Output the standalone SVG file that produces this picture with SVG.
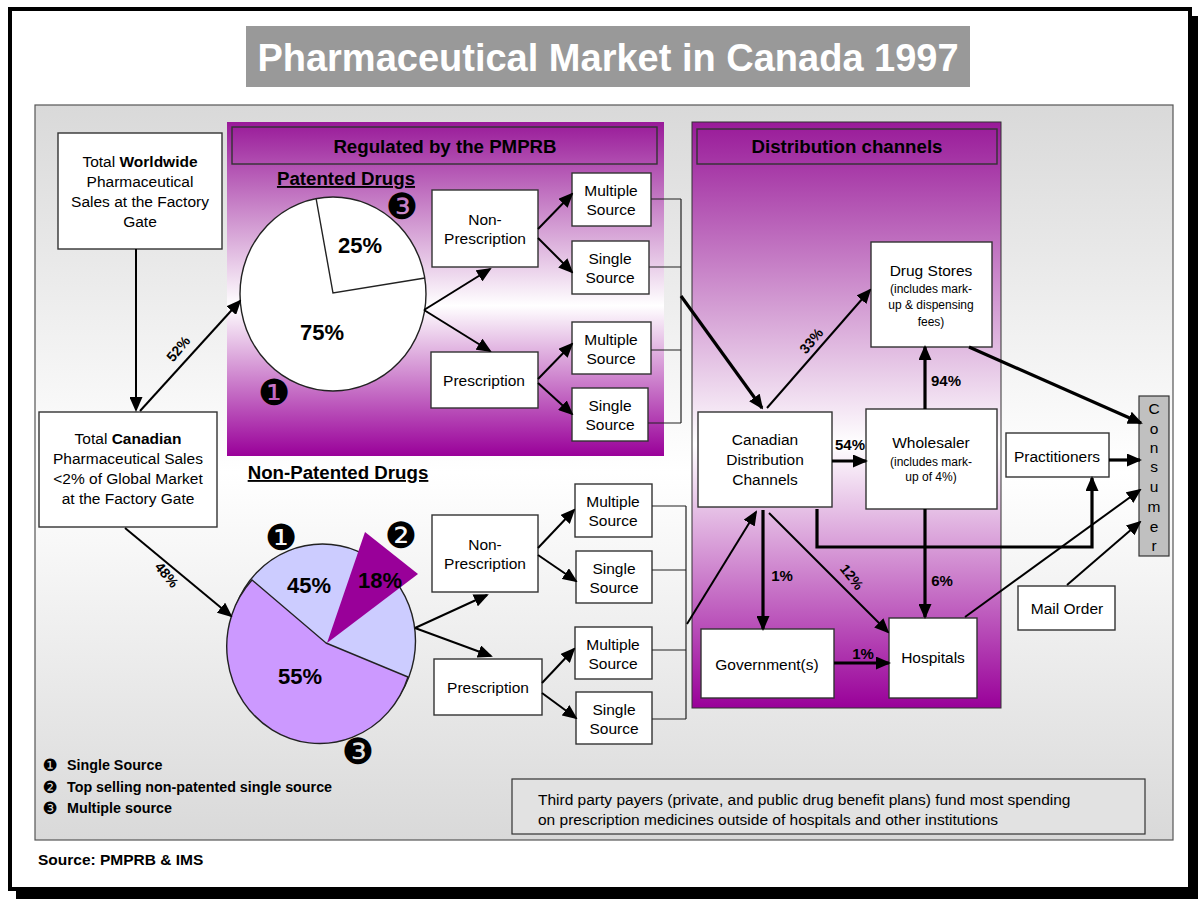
<svg xmlns="http://www.w3.org/2000/svg" width="1198" height="899" viewBox="0 0 1198 899">
<defs>
<style>
text{font-family:"Liberation Sans",Arial,sans-serif;fill:#000}
.box{fill:#fff;stroke:#333;stroke-width:1.4}
.t{font-size:15.5px;text-anchor:middle}
.s{font-size:12px;text-anchor:middle}
.b{font-weight:bold}
.pct{font-size:15px;font-weight:bold;text-anchor:middle}
.rp{font-size:14px;font-weight:bold;text-anchor:middle}
.big{font-size:22px;font-weight:bold;text-anchor:middle}
.hd{font-size:18.7px;font-weight:bold;text-anchor:middle}
.dg{font-family:"DejaVu Sans",sans-serif;text-anchor:middle;font-size:36px}
.dl{font-family:"DejaVu Sans",sans-serif;text-anchor:middle;font-size:17px}
.lg{font-size:14.3px;font-weight:bold}
.c{stroke:#000;fill:none;stroke-width:2}
.k{stroke:#000;fill:none;stroke-width:3.2}
.br{stroke:#222;fill:none;stroke-width:1.2}
</style>
<linearGradient id="bg" x1="0" y1="0" x2="0" y2="1">
<stop offset="0" stop-color="#d9d9d9"/><stop offset="0.5" stop-color="#ffffff"/><stop offset="1" stop-color="#d9d9d9"/>
</linearGradient>
<linearGradient id="pu" x1="0" y1="0" x2="0" y2="1">
<stop offset="0" stop-color="#991a99"/><stop offset="0.55" stop-color="#ffffff"/><stop offset="1" stop-color="#990099"/>
</linearGradient>
<marker id="ah" markerUnits="userSpaceOnUse" markerWidth="15" markerHeight="13" refX="13" refY="6.5" orient="auto">
<path d="M0,0 L15,6.5 L0,13 z" fill="#000"/>
</marker>
</defs>

<!-- frame -->
<rect x="16" y="16" width="1182" height="883" fill="#000"/>
<rect x="10" y="9" width="1180" height="880" fill="#fff" stroke="#000" stroke-width="4"/>

<!-- title -->
<g id="title">
<rect x="246" y="26" width="724" height="61" fill="#999999"/>
<text x="608" y="71" style="font-size:38px;font-weight:bold;fill:#fff;text-anchor:middle">Pharmaceutical Market in Canada 1997</text>
</g>

<!-- main panel -->
<rect x="35" y="105" width="1138" height="735" fill="url(#bg)" stroke="#555" stroke-width="1.2"/>

<!-- purple panels -->
<g id="regulated">
<rect x="227" y="122" width="437" height="334" fill="url(#pu)"/>
<rect x="232" y="127" width="425" height="37" fill="none" stroke="#333" stroke-width="1.4"/>
<text x="445" y="153" class="hd">Regulated by the PMPRB</text>
</g>
<g id="distribution">
<rect x="692" y="122" width="309" height="586" fill="url(#pu)" stroke="#333" stroke-width="1"/>
<rect x="697" y="129" width="300" height="35" fill="none" stroke="#333" stroke-width="1.4"/>
<text x="847" y="153" class="hd">Distribution channels</text>
</g>

<!-- left boxes -->
<g id="worldwide">
<rect class="box" x="58" y="133" width="164" height="116"/>
<text class="t" x="140" y="167"><tspan>Total </tspan><tspan class="b">Worldwide</tspan></text>
<text class="t" x="140" y="187">Pharmaceutical</text>
<text class="t" x="140" y="207">Sales at the Factory</text>
<text class="t" x="140" y="227">Gate</text>
</g>
<g id="canadian">
<rect class="box" x="39" y="412" width="178" height="115"/>
<text class="t" x="128" y="444"><tspan>Total </tspan><tspan class="b">Canadian</tspan></text>
<text class="t" x="128" y="464">Pharmaceutical Sales</text>
<text class="t" x="128" y="484">&lt;2% of Global Market</text>
<text class="t" x="128" y="504">at the Factory Gate</text>
</g>

<!-- patented pie -->
<g id="patented-pie">
<text x="346" y="185" class="hd" text-decoration="underline">Patented Drugs</text>
<ellipse cx="333" cy="294" rx="93" ry="97" fill="#fff" stroke="#222" stroke-width="1.4"/>
<path d="M316,198 L333,293 L425,278" fill="none" stroke="#222" stroke-width="1.4"/>
<text x="360" y="253" class="big">25%</text>
<text x="322" y="340" class="big">75%</text>
<text x="402" y="219" class="dg">❸</text>
<text x="274" y="405" class="dg">❶</text>
</g>

<!-- non patented pie -->
<g id="nonpatented-pie">
<text x="338" y="479" class="hd" text-decoration="underline">Non-Patented Drugs</text>
<ellipse cx="322.5" cy="641" rx="93" ry="97" fill="#ccccff" stroke="#222" stroke-width="1.4"/>
<path d="M326,643 L408,677 A93,97 0 1 1 252,580 Z" fill="#cc99ff" stroke="#222" stroke-width="1.4"/>
<polygon points="327,643 365,532 418,574" fill="#990099"/>
<text x="309" y="593" class="big">45%</text>
<text x="380" y="588" class="big">18%</text>
<text x="300" y="684" class="big">55%</text>
<text x="281" y="550" class="dg">❶</text>
<text x="401" y="548" class="dg">❷</text>
<text x="358" y="764" class="dg">❸</text>
</g>

<!-- patented boxes -->
<g id="p-nonrx"><rect class="box" x="432" y="190" width="106" height="77"/>
<text class="t" x="485" y="225">Non-</text><text class="t" x="485" y="244">Prescription</text></g>
<g id="p-rx"><rect class="box" x="431" y="352" width="107" height="56"/>
<text class="t" x="484" y="386">Prescription</text></g>
<g id="p-nonrx-ms"><rect class="box" x="572" y="173" width="79" height="53"/>
<text class="t" x="611" y="196">Multiple</text><text class="t" x="611" y="215">Source</text></g>
<g id="p-nonrx-ss"><rect class="box" x="572" y="241" width="77" height="53"/>
<text class="t" x="610" y="264">Single</text><text class="t" x="610" y="283">Source</text></g>
<g id="p-rx-ms"><rect class="box" x="572" y="322" width="79" height="52"/>
<text class="t" x="611" y="345">Multiple</text><text class="t" x="611" y="364">Source</text></g>
<g id="p-rx-ss"><rect class="box" x="572" y="388" width="76" height="53"/>
<text class="t" x="610" y="411">Single</text><text class="t" x="610" y="430">Source</text></g>

<!-- non-patented boxes -->
<g id="n-nonrx"><rect class="box" x="432" y="515" width="106" height="77"/>
<text class="t" x="485" y="550">Non-</text><text class="t" x="485" y="569">Prescription</text></g>
<g id="n-rx"><rect class="box" x="434" y="659" width="108" height="56"/>
<text class="t" x="488" y="693">Prescription</text></g>
<g id="n-nonrx-ms"><rect class="box" x="575" y="484" width="77" height="53"/>
<text class="t" x="613" y="507">Multiple</text><text class="t" x="613" y="526">Source</text></g>
<g id="n-nonrx-ss"><rect class="box" x="576" y="551" width="76" height="52"/>
<text class="t" x="614" y="574">Single</text><text class="t" x="614" y="593">Source</text></g>
<g id="n-rx-ms"><rect class="box" x="575" y="627" width="77" height="52"/>
<text class="t" x="613" y="650">Multiple</text><text class="t" x="613" y="669">Source</text></g>
<g id="n-rx-ss"><rect class="box" x="576" y="692" width="76" height="52"/>
<text class="t" x="614" y="715">Single</text><text class="t" x="614" y="734">Source</text></g>

<!-- distribution boxes -->
<g id="cdc"><rect class="box" x="698" y="412" width="134" height="95"/>
<text class="t" x="765" y="445">Canadian</text><text class="t" x="765" y="465">Distribution</text><text class="t" x="765" y="485">Channels</text></g>
<g id="wholesaler"><rect class="box" x="866" y="409" width="131" height="100"/>
<text class="t" x="931" y="448">Wholesaler</text><text class="s" x="931" y="466">(includes mark-</text><text class="s" x="931" y="481">up of 4%)</text></g>
<g id="drugstores"><rect class="box" x="871" y="242" width="121" height="105"/>
<text class="t" x="931" y="276">Drug Stores</text><text class="s" x="931" y="293">(includes mark-</text><text class="s" x="931" y="309">up &amp; dispensing</text><text class="s" x="931" y="326">fees)</text></g>
<g id="government"><rect class="box" x="701" y="629" width="133" height="69"/>
<text class="t" x="767" y="670">Government(s)</text></g>
<g id="hospitals"><rect class="box" x="889" y="618" width="88" height="80"/>
<text class="t" x="933" y="663">Hospitals</text></g>
<g id="practitioners"><rect class="box" x="1006" y="433" width="103" height="44"/>
<text class="t" x="1057" y="462">Practitioners</text></g>
<g id="mailorder"><rect class="box" x="1018" y="586" width="97" height="44"/>
<text class="t" x="1067" y="614">Mail Order</text></g>
<g id="consumer"><rect x="1139" y="396" width="30" height="160" fill="#c0c0c0" stroke="#333" stroke-width="1.2"/>
<text class="t" x="1154" y="414">C</text><text class="t" x="1154" y="434">o</text><text class="t" x="1154" y="453">n</text><text class="t" x="1154" y="472">s</text><text class="t" x="1154" y="492">u</text><text class="t" x="1154" y="512">m</text><text class="t" x="1154" y="532">e</text><text class="t" x="1154" y="551">r</text></g>

<!-- connectors -->
<g id="connectors">
<line class="c" x1="136" y1="249" x2="136" y2="410" marker-end="url(#ah)"/>
<line class="c" x1="140" y1="411" x2="240" y2="301" marker-end="url(#ah)"/>
<line class="c" x1="125" y1="528" x2="231" y2="616" marker-end="url(#ah)"/>
<line class="c" x1="424" y1="310" x2="490" y2="269" marker-end="url(#ah)"/>
<line class="c" x1="424" y1="310" x2="490" y2="351" marker-end="url(#ah)"/>
<line class="c" x1="538" y1="229" x2="572" y2="194" marker-end="url(#ah)"/>
<line class="c" x1="538" y1="238" x2="572" y2="272" marker-end="url(#ah)"/>
<line class="c" x1="538" y1="379" x2="572" y2="344" marker-end="url(#ah)"/>
<line class="c" x1="538" y1="383" x2="572" y2="414" marker-end="url(#ah)"/>
<path class="br" d="M651,199 H681 M649,267 H681 M651,350 H681 M648,423 H681 M681,199 V423"/>
<line class="k" x1="681" y1="296" x2="762" y2="408" marker-end="url(#ah)"/>
<line class="c" x1="415" y1="628" x2="487" y2="595" marker-end="url(#ah)"/>
<line class="c" x1="415" y1="628" x2="491" y2="656" marker-end="url(#ah)"/>
<line class="c" x1="538" y1="548" x2="574" y2="510" marker-end="url(#ah)"/>
<line class="c" x1="538" y1="555" x2="576" y2="581" marker-end="url(#ah)"/>
<line class="c" x1="542" y1="683" x2="574" y2="649" marker-end="url(#ah)"/>
<line class="c" x1="542" y1="693" x2="576" y2="718" marker-end="url(#ah)"/>
<path class="br" d="M652,506 H686 M652,570 H686 M652,650 H686 M652,719 H686 M686,506 V719"/>
<line class="c" x1="687" y1="624" x2="756" y2="512" marker-end="url(#ah)"/>
<line class="c" x1="767" y1="408" x2="870" y2="290" marker-end="url(#ah)"/>
<line class="k" x1="832" y1="461" x2="866" y2="461" marker-end="url(#ah)"/>
<line class="k" x1="925" y1="409" x2="925" y2="347" marker-end="url(#ah)"/>
<line class="k" x1="969" y1="347" x2="1141" y2="423" marker-end="url(#ah)"/>
<line class="k" x1="1109" y1="460" x2="1140" y2="460" marker-end="url(#ah)"/>
<path class="k" d="M817,509 V547 H1092 V478" marker-end="url(#ah)"/>
<line class="k" x1="763" y1="510" x2="763" y2="629" marker-end="url(#ah)"/>
<line class="c" x1="769" y1="513" x2="888" y2="632" marker-end="url(#ah)"/>
<line class="k" x1="925" y1="509" x2="925" y2="617" marker-end="url(#ah)"/>
<line class="k" x1="834" y1="663" x2="889" y2="663" marker-end="url(#ah)"/>
<line class="c" x1="965" y1="617" x2="1140" y2="490" marker-end="url(#ah)"/>
<line class="c" x1="1067" y1="585" x2="1140" y2="522" marker-end="url(#ah)"/>
</g>

<!-- connector labels -->
<g id="labels">
<text class="rp" transform="translate(182,352) rotate(-50)">52%</text>
<text class="rp" transform="translate(163,578) rotate(50)">48%</text>
<text class="rp" transform="translate(815,344) rotate(-50)">33%</text>
<text class="rp" transform="translate(848,580) rotate(52)">12%</text>
<text class="pct" x="850" y="450">54%</text>
<text class="pct" x="946" y="386">94%</text>
<text class="pct" x="782" y="581">1%</text>
<text class="pct" x="942" y="586">6%</text>
<text class="pct" x="863" y="659">1%</text>
</g>

<!-- legend -->
<g id="legend">
<text x="50" y="771" class="dl">❶</text>
<text x="67" y="770" class="lg">Single Source</text>
<text x="50" y="793" class="dl">❷</text>
<text x="67" y="792" class="lg">Top selling non-patented single source</text>
<text x="50" y="814" class="dl">❸</text>
<text x="67" y="813" class="lg">Multiple source</text>
</g>

<g id="thirdparty">
<rect x="512" y="779" width="633" height="55" fill="#e2e2e2" stroke="#333" stroke-width="1.2"/>
<text x="538" y="805" style="font-size:15.5px">Third party payers (private, and public drug benefit plans) fund most spending</text>
<text x="538" y="825" style="font-size:15.5px">on prescription medicines outside of hospitals and other institutions</text>
</g>

<text x="38" y="865" style="font-size:15.5px;font-weight:bold">Source: PMPRB &amp; IMS</text>
</svg>
